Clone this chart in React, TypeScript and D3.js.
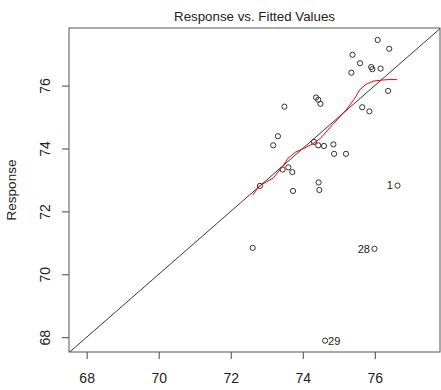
import React, { useEffect, useRef } from 'react';
import * as d3 from 'd3';

const fitted = [
  76.08, 76.40, 75.38, 75.59, 75.90, 75.93, 76.16, 75.35, 76.37,
  74.37, 74.43, 74.49, 73.49, 75.65, 75.85,
  73.31, 73.18, 74.31, 74.43, 74.59, 74.85, 74.87, 75.20,
  73.44, 73.60, 73.71, 72.81, 73.73, 74.44, 74.46, 76.63,
  72.61, 75.99, 74.62,
];
const response = [
  77.45, 77.17, 76.98, 76.71, 76.59, 76.52, 76.54, 76.41, 75.83,
  75.62, 75.55, 75.42, 75.33, 75.31, 75.18,
  74.39, 74.10, 74.21, 74.10, 74.08, 74.13, 73.83, 73.83,
  73.33, 73.40, 73.25, 72.81, 72.65, 72.92, 72.68, 72.82,
  70.84, 70.81, 67.89,
];
// labelled outliers: index into the arrays above, label, side
const outlierIdx = [30, 32, 33];
const outlierLabels = ['1', '28', '29'];
const outlierSide = ['left', 'left', 'right'];

// lowess smooth (red)
const smoothX = [72.61, 72.81, 73.18, 73.45, 73.59, 73.79, 74.01, 74.26, 74.48, 74.84, 75.20, 75.43, 75.59, 75.76, 75.95, 76.15, 76.37, 76.62];
const smoothY = [72.52, 72.82, 73.06, 73.44, 73.69, 73.88, 73.99, 74.14, 74.31, 74.77, 75.22, 75.57, 75.88, 76.04, 76.14, 76.17, 76.19, 76.19];

const ticks = [68, 70, 72, 74, 76];

const App = () => {
  const ref = useRef<SVGSVGElement>(null);

  useEffect(() => {
    drawChart();
  }, []);

  const drawChart = () => {
    const svg = d3.select(ref.current);
    svg.selectAll('*').remove();

    const left = 69, right = 440, top = 28, bottom = 352;
    const font = 'Liberation Sans, Arial, sans-serif';

    const x = d3.scaleLinear().domain([67.51, 77.81]).range([left, right]);
    const y = d3.scaleLinear().domain([67.53, 77.83]).range([bottom, top]);

    svg.append('defs').append('clipPath').attr('id', 'plotclip')
      .append('rect')
      .attr('x', left).attr('y', top)
      .attr('width', right - left).attr('height', bottom - top);

    // title
    svg.append('text')
      .attr('x', (left + right) / 2)
      .attr('y', 20.5)
      .attr('text-anchor', 'middle')
      .attr('font-family', font)
      .attr('font-size', 13.3)
      .attr('fill', '#222')
      .text('Response vs. Fitted Values');

    // y label
    svg.append('text')
      .attr('transform', `translate(16,${(top + bottom) / 2}) rotate(-90)`)
      .attr('text-anchor', 'middle')
      .attr('font-family', font)
      .attr('font-size', 13.5)
      .attr('fill', '#222')
      .text('Response');

    // x axis
    const gx = svg.append('g')
      .attr('transform', `translate(0,${bottom})`)
      .call(d3.axisBottom(x).tickValues(ticks).tickSize(7).tickSizeOuter(0).tickFormat(d3.format('d')));
    gx.select('.domain').remove();
    gx.selectAll('line').attr('stroke', '#444');
    gx.selectAll('text')
      .attr('y', 30.5).attr('dy', 0)
      .attr('font-family', font).attr('font-size', 14).attr('fill', '#222');

    // y axis, labels rotated like R
    const gy = svg.append('g')
      .attr('transform', `translate(${left},0)`)
      .call(d3.axisLeft(y).tickValues(ticks).tickSize(7).tickSizeOuter(0).tickFormat(d3.format('d')));
    gy.select('.domain').remove();
    gy.selectAll('line').attr('stroke', '#444');
    gy.selectAll('text')
      .attr('x', 0).attr('dy', 0)
      .attr('text-anchor', 'middle')
      .attr('transform', `translate(${50 - left},0) rotate(-90)`)
      .attr('font-family', font).attr('font-size', 14).attr('fill', '#222');

    const plot = svg.append('g').attr('clip-path', 'url(#plotclip)');

    // 1:1 line
    plot.append('line')
      .attr('x1', x(67)).attr('y1', y(67))
      .attr('x2', x(78.5)).attr('y2', y(78.5))
      .attr('stroke', '#222')
      .attr('stroke-width', 0.9);

    // points
    plot.selectAll('circle')
      .data(fitted)
      .enter().append('circle')
      .attr('cx', d => x(d))
      .attr('cy', (d, i) => y(response[i]))
      .attr('r', 2.6)
      .attr('fill', 'none')
      .attr('stroke', '#333')
      .attr('stroke-width', 1);

    // smooth
    const line = d3.line<number>()
      .x(d => x(d))
      .y((d, i) => y(smoothY[i]));
    plot.append('path')
      .attr('d', line(smoothX))
      .attr('fill', 'none')
      .attr('stroke', 'red')
      .attr('stroke-width', 1);

    // outlier labels
    svg.selectAll('.lbl')
      .data(outlierIdx)
      .enter().append('text')
      .attr('class', 'lbl')
      .attr('x', (d, i) => x(fitted[d]) + (outlierSide[i] === 'left' ? -4.5 : 3))
      .attr('y', d => y(response[d]))
      .attr('dy', '0.35em')
      .attr('text-anchor', (d, i) => (outlierSide[i] === 'left' ? 'end' : 'start'))
      .attr('font-family', font)
      .attr('font-size', 11)
      .attr('fill', '#222')
      .text((d, i) => outlierLabels[i]);

    // box
    svg.append('rect')
      .attr('x', left).attr('y', top)
      .attr('width', right - left).attr('height', bottom - top)
      .attr('fill', 'none')
      .attr('stroke', '#555')
      .attr('stroke-width', 1);
  };

  return (
    <svg ref={ref} width={441} height={390}
      style={{ position: 'absolute', left: 0, top: 0, background: '#fff' }} />
  );
};

export default App;
